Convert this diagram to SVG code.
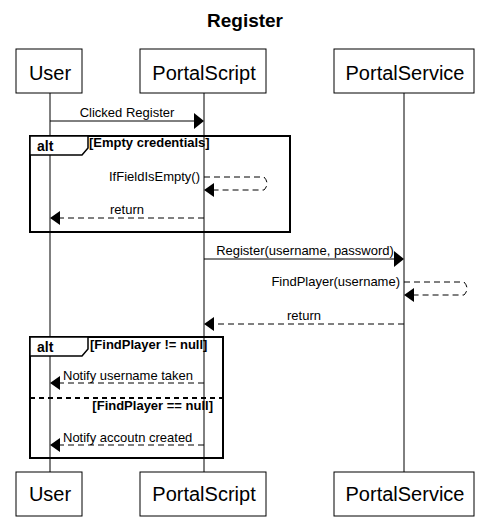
<svg xmlns="http://www.w3.org/2000/svg" width="493" height="520" viewBox="0 0 493 520">
<style>
text{font-family:"Liberation Sans",Arial,sans-serif;fill:#000}
.title{font-size:19px;font-weight:bold}
.pname{font-size:20px}
.box{fill:#fff;stroke:#000;stroke-width:1}
.life{stroke:#000;stroke-width:1;fill:none}
.msg{font-size:13px}
.guard{font-size:13px;font-weight:bold}
.alt{font-size:14px;font-weight:bold}
.frame{fill:none;stroke:#000;stroke-width:2}
.tab{fill:#fff;stroke:#000;stroke-width:1.5}
.solid{stroke:#000;stroke-width:1;fill:none}
.dash{stroke:#000;stroke-width:1;fill:none;stroke-dasharray:6,4}
.sep{stroke:#000;stroke-width:2;fill:none;stroke-dasharray:5,4}
.head{fill:#000;stroke:none}
</style>
<rect width="493" height="520" fill="#fff"/>
<text class="title" x="245" y="27" text-anchor="middle">Register</text>

<g id="lifelines">
<line class="life" x1="50" y1="93" x2="50" y2="472"/>
<line class="life" x1="204" y1="93" x2="204" y2="472"/>
<line class="life" x1="404" y1="93" x2="404" y2="472"/>
</g>

<g id="user">
<rect class="box" x="16" y="49" width="66" height="44"/>
<text class="pname" x="50" y="80" text-anchor="middle">User</text>
<rect class="box" x="16" y="472" width="66" height="44"/>
<text class="pname" x="50" y="501" text-anchor="middle">User</text>
</g>
<g id="portalscript">
<rect class="box" x="140" y="49" width="126" height="44"/>
<text class="pname" x="204" y="80" text-anchor="middle">PortalScript</text>
<rect class="box" x="140" y="472" width="126" height="44"/>
<text class="pname" x="204" y="501" text-anchor="middle">PortalScript</text>
</g>
<g id="portalservice">
<rect class="box" x="334" y="49" width="140" height="44"/>
<text class="pname" x="405" y="80" text-anchor="middle">PortalService</text>
<rect class="box" x="334" y="472" width="140" height="44"/>
<text class="pname" x="405" y="501" text-anchor="middle">PortalService</text>
</g>

<g id="alt1">
<rect class="frame" x="30" y="136" width="260" height="96"/>
<path class="tab" d="M30,136 H88 V148 L82,155 H30 Z"/>
<text class="alt" x="37" y="151">alt</text>
<text class="guard" x="89" y="147">[Empty credentials]</text>
</g>

<g id="alt2">
<rect class="frame" x="30" y="337" width="193" height="121"/>
<path class="tab" d="M30,337 H88 V349 L82,356 H30 Z"/>
<text class="alt" x="37" y="352">alt</text>
<text class="guard" x="90" y="349">[FindPlayer != null]</text>
<line class="sep" x1="30" y1="398" x2="223" y2="398"/>
<text class="guard" x="213" y="410" text-anchor="end">[FindPlayer == null]</text>
</g>

<g id="connectors">
<line class="solid" x1="50" y1="121" x2="195" y2="121"/>
<polygon class="head" points="204,121 194,113 194,129"/>
<text class="msg" x="127" y="117" text-anchor="middle">Clicked Register</text>

<path class="dash" d="M204,177 H264 Q270,183.5 264,190 H214"/>
<polygon class="head" points="204,190 214,183 214,197"/>
<text class="msg" x="200" y="181" text-anchor="end">IfFieldIsEmpty()</text>

<line class="dash" x1="204" y1="218" x2="60" y2="218"/>
<polygon class="head" points="50,218 60,211 60,225"/>
<text class="msg" x="127" y="214" text-anchor="middle">return</text>

<line class="solid" x1="204" y1="259" x2="395" y2="259"/>
<polygon class="head" points="404,259 394,251 394,267"/>
<text class="msg" x="305" y="255" text-anchor="middle">Register(username, password)</text>

<path class="dash" d="M404,282 H464 Q470,288.5 464,295 H414"/>
<polygon class="head" points="404,295 414,288 414,302"/>
<text class="msg" x="400" y="286" text-anchor="end">FindPlayer(username)</text>

<line class="dash" x1="404" y1="324" x2="214" y2="324"/>
<polygon class="head" points="204,324 214,317 214,331"/>
<text class="msg" x="304" y="320" text-anchor="middle">return</text>

<line class="dash" x1="204" y1="383" x2="60" y2="383"/>
<polygon class="head" points="50,383 60,376 60,390"/>
<text class="msg" x="63" y="380">Notify username taken</text>

<line class="dash" x1="204" y1="445" x2="60" y2="445"/>
<polygon class="head" points="50,445 60,438 60,452"/>
<text class="msg" x="63" y="442">Notify accoutn created</text>
</g>
</svg>
